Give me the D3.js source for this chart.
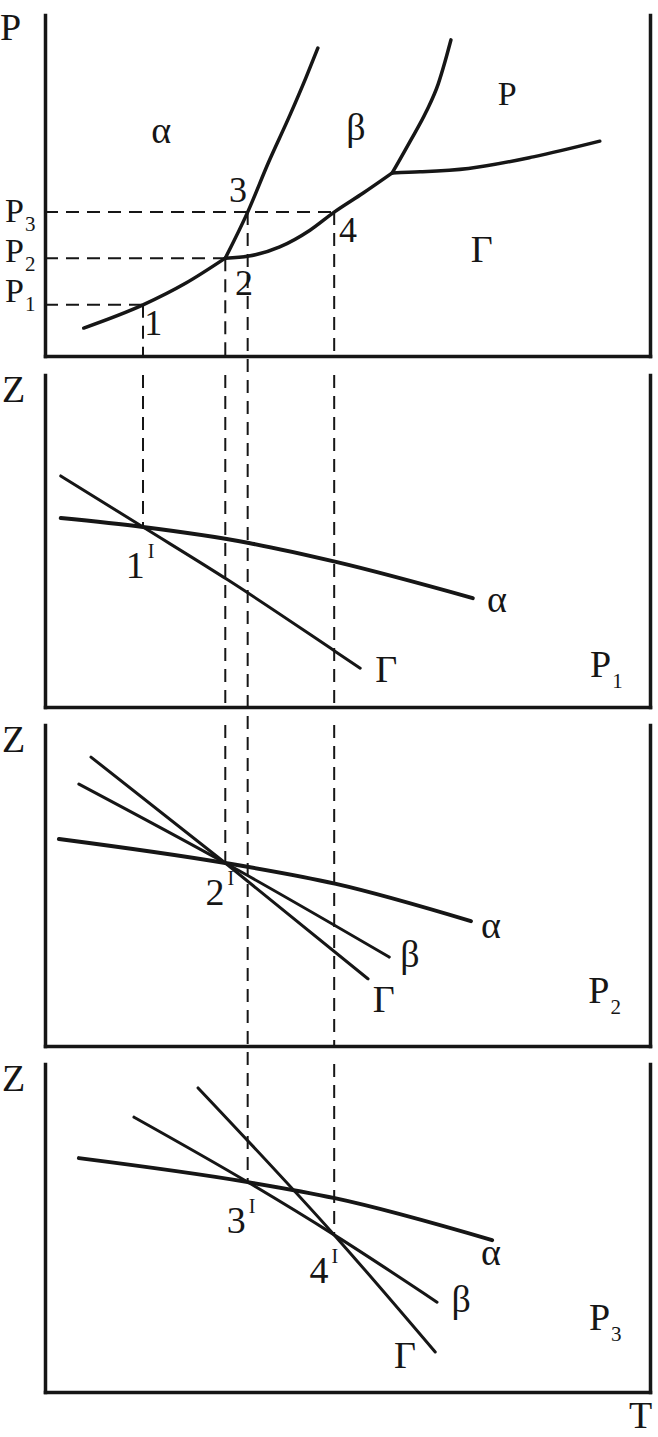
<!DOCTYPE html>
<html><head><meta charset="utf-8">
<script src="https://cdn.jsdelivr.net/npm/d3@7"></script>
<style>html,body{margin:0;padding:0;background:#fff;} svg{display:block;} text{font-family:'Liberation Serif','Times New Roman','DejaVu Serif',serif;}</style>
</head><body><svg id="chart" width="658" height="1437"></svg>
<script>
// ---------- DATA (T and P/Z in arbitrary units 0..100) ----------
// Panel 1: P-T phase diagram boundaries
const boundaryAlphaGamma = [[6.4,8.2],[16.2,15.0],[23.3,21.4],[29.8,28.7]];
const boundaryBetaGamma  = [[29.8,28.7],[33.7,29.3],[38.8,32.0],[43.8,36.9],[47.8,42.2],[52.6,47.8],[57.4,53.7]];
const boundaryAlphaBeta  = [[29.8,28.7],[33.5,42.2],[36.9,56.6],[40.5,70.7],[43.1,81.5],[45.1,90.3]];
const boundaryBetaP      = [[57.4,53.7],[60.3,62.8],[63.0,71.6],[65.0,79.8],[66.1,86.2],[67.1,92.7]];
const boundaryPGamma     = [[57.4,53.7],[62.0,54.0],[70.0,55.0],[80.7,58.4],[91.7,63.0]];

// Pressure levels P1, P2, P3 and where their dashed lines end
const pressureNames  = ["1","2","3"];
const pressureLevels = [15.0, 28.7, 42.2];
const pressureEndT   = [16.2, 29.8, 47.8];
const pressureLabelP = [15.8, 27.6, 39.3];

// Vertical dashed lines: temperature, start pressure, target panel, Z at target
const crossT     = [16.2, 29.8, 33.5, 47.8];
const crossP     = [15.0, 28.7, 42.2, 42.2];
const crossPanel = [1, 2, 3, 3];
const crossZ     = [54.2, 57.0, 64.0, 47.9];

// Region and point labels in panel 1
const regionNames = ["α","β","P","Γ"];
const regionT = [19.2, 51.4, 76.4, 72.2];
const regionP = [62.5, 63.3, 73.6, 27.6];
const pointNames = ["1","2","3","4"];
const pointT = [17.9, 32.9, 31.9, 50.1];
const pointP = [6.2, 17.9, 45.2, 33.4];

// Panel 2: Z(T) at P1
const zP1Alpha = [[2.6,56.9],[16.2,54.2],[33.7,49.4],[48.1,43.7],[70.7,32.8]];
const zP1Gamma = [[2.6,69.6],[16.2,54.2],[30.2,38.3],[48.1,16.6],[52.1,11.7]];
const zP1Names = ["α","Γ"];
const zP1LabelT = [74.7, 56.4];
const zP1LabelZ = [28.6, 7.5];

// Panel 3: Z(T) at P2
const zP2Alpha = [[2.3,64.5],[29.8,57.0],[48.1,50.5],[70.4,38.9]];
const zP2Beta  = [[5.6,81.6],[29.8,57.0],[56.9,27.7]];
const zP2Gamma = [[7.6,90.0],[29.8,57.0],[53.4,20.9]];
const zP2Names = ["α","β","Γ"];
const zP2LabelT = [73.7, 60.3, 56.0];
const zP2LabelZ = [33.6, 24.6, 10.6];

// Panel 4: Z(T) at P3
const zP3Alpha = [[5.6,71.3],[33.5,64.0],[47.9,59.1],[73.9,46.3]];
const zP3Beta  = [[14.7,83.8],[33.5,64.0],[47.8,47.9],[64.8,27.4]];
const zP3Gamma = [[25.3,92.7],[47.8,47.9],[64.5,12.2]];
const zP3Names = ["α","β","Γ"];
const zP3LabelT = [73.7, 68.8, 59.5];
const zP3LabelZ = [38.7, 24.4, 7.3];

// Intersection labels (with superscript I)
const crossNames  = ["1","2","3","4"];
const crossPanelL = [1, 2, 3, 3];
const crossLabelT = [15.7, 28.9, 32.4, 46.1];
const crossLabelZ = [38.9, 43.9, 48.5, 33.2];

// Pressure label of each Z panel
const panelPressure = ["1","2","3"];
const panelPressureT = [90.1, 89.8, 89.9];
const panelPressureZ = [9.0, 13.4, 18.9];

// ---------- DRAWING ----------
const svg = d3.select("#chart");
const INK = "#161616";
const x = d3.scaleLinear().domain([0,100]).range([45,650]);
const panelBoxes = [[15,356],[375,707],[725,1046],[1064,1392]];
const ys = panelBoxes.map(([t,b]) => d3.scaleLinear().domain([0,100]).range([b,t]));

// frames
panelBoxes.forEach(([t,b],i) => {
  const y = ys[i];
  const g = svg.append("g");
  g.append("g").attr("transform",`translate(0,${b})`).call(d3.axisBottom(x).tickValues([]).tickSizeOuter(0));
  g.append("g").attr("transform",`translate(${x.range()[0]},0)`).call(d3.axisLeft(y).tickValues([]).tickSizeOuter(0));
  g.append("g").attr("transform",`translate(${x.range()[1]},0)`).call(d3.axisRight(y).tickValues([]).tickSizeOuter(0));
  g.selectAll(".domain").attr("stroke",INK).attr("stroke-width",3.5).attr("stroke-linecap","square").attr("fill","none");
});

// dashed guides
const dash = svg.append("g").attr("stroke",INK).attr("stroke-width",2).attr("stroke-dasharray","13,8").attr("fill","none");
pressureLevels.forEach((p,i) => {
  dash.append("line").attr("x1",x(0)).attr("x2",x(pressureEndT[i]))
    .attr("y1",ys[0](p)).attr("y2",ys[0](p));
});
crossT.forEach((t,j) => {
  const end = crossPanel[j];
  const segs = [];
  if (j === 2) {
    segs.push([ys[0](crossP[j]), ys[end](crossZ[j])]);
  } else {
    segs.push([ys[0](crossP[j]), panelBoxes[0][1]]);
    for (let k=1;k<end;k++) segs.push([panelBoxes[k][0], panelBoxes[k][1]]);
    segs.push([panelBoxes[end][0], ys[end](crossZ[j])]);
  }
  segs.forEach(([a,b]) => dash.append("line").attr("x1",x(t)).attr("x2",x(t)).attr("y1",a).attr("y2",b));
});

// curves
function curve(i, data, w) {
  const y = ys[i];
  svg.append("path").datum(data)
    .attr("d", d3.line().x(d=>x(d[0])).y(d=>y(d[1])).curve(d3.curveMonotoneX))
    .attr("fill","none").attr("stroke",INK).attr("stroke-width",w)
    .attr("stroke-linecap","round").attr("stroke-linejoin","round");
}
[boundaryAlphaGamma, boundaryBetaGamma, boundaryAlphaBeta, boundaryBetaP, boundaryPGamma].forEach(d => curve(0,d,3.5));
curve(1, zP1Alpha, 4); curve(1, zP1Gamma, 3);
curve(2, zP2Alpha, 4); curve(2, zP2Beta, 3); curve(2, zP2Gamma, 3);
curve(3, zP3Alpha, 4); curve(3, zP3Beta, 3); curve(3, zP3Gamma, 3);

// text helpers
function label(px, py, txt, opts={}) {
  const t = svg.append("text").attr("x",px).attr("y",py)
    .attr("font-size",opts.size||38).attr("fill",INK)
    .attr("text-anchor",opts.anchor||"middle").text(txt);
  if (opts.sub) t.append("tspan").attr("font-size",21).attr("dx",1).attr("dy",opts.subDy||10).text(opts.sub);
  if (opts.sup) t.append("tspan").attr("font-size",20).attr("dx",3).attr("dy",-20).text(opts.sup);
  return t;
}

// axis titles
label(0, 40, "P", {anchor:"start"});
[1,2,3].forEach(i => label(2, panelBoxes[i][0]+27, "Z", {anchor:"start"}));
label(629, 1428, "T", {anchor:"start"});

// pressure tick labels
pressureNames.forEach((n,i) => label(5, ys[0](pressureLabelP[i]), "P", {anchor:"start", size:34, sub:n, subDy:9}));

// panel 1 labels
regionNames.forEach((n,i) => label(x(regionT[i]), ys[0](regionP[i]), n, {size: n==="P"?34:38}));
pointNames.forEach((n,i) => label(x(pointT[i]), ys[0](pointP[i]), n, {size:36}));

// Z panel labels
[[zP1Names,zP1LabelT,zP1LabelZ],[zP2Names,zP2LabelT,zP2LabelZ],[zP3Names,zP3LabelT,zP3LabelZ]].forEach(([names,ts,zs],k) => {
  names.forEach((n,i) => label(x(ts[i]), ys[k+1](zs[i]), n));
});
crossNames.forEach((n,i) => label(x(crossLabelT[i]), ys[crossPanelL[i]](crossLabelZ[i]), n, {size:38, sup:"I"}));
panelPressure.forEach((n,i) => label(x(panelPressureT[i]), ys[i+1](panelPressureZ[i]), "P", {anchor:"start", sub:n, subDy:11}));
</script></body></html>
